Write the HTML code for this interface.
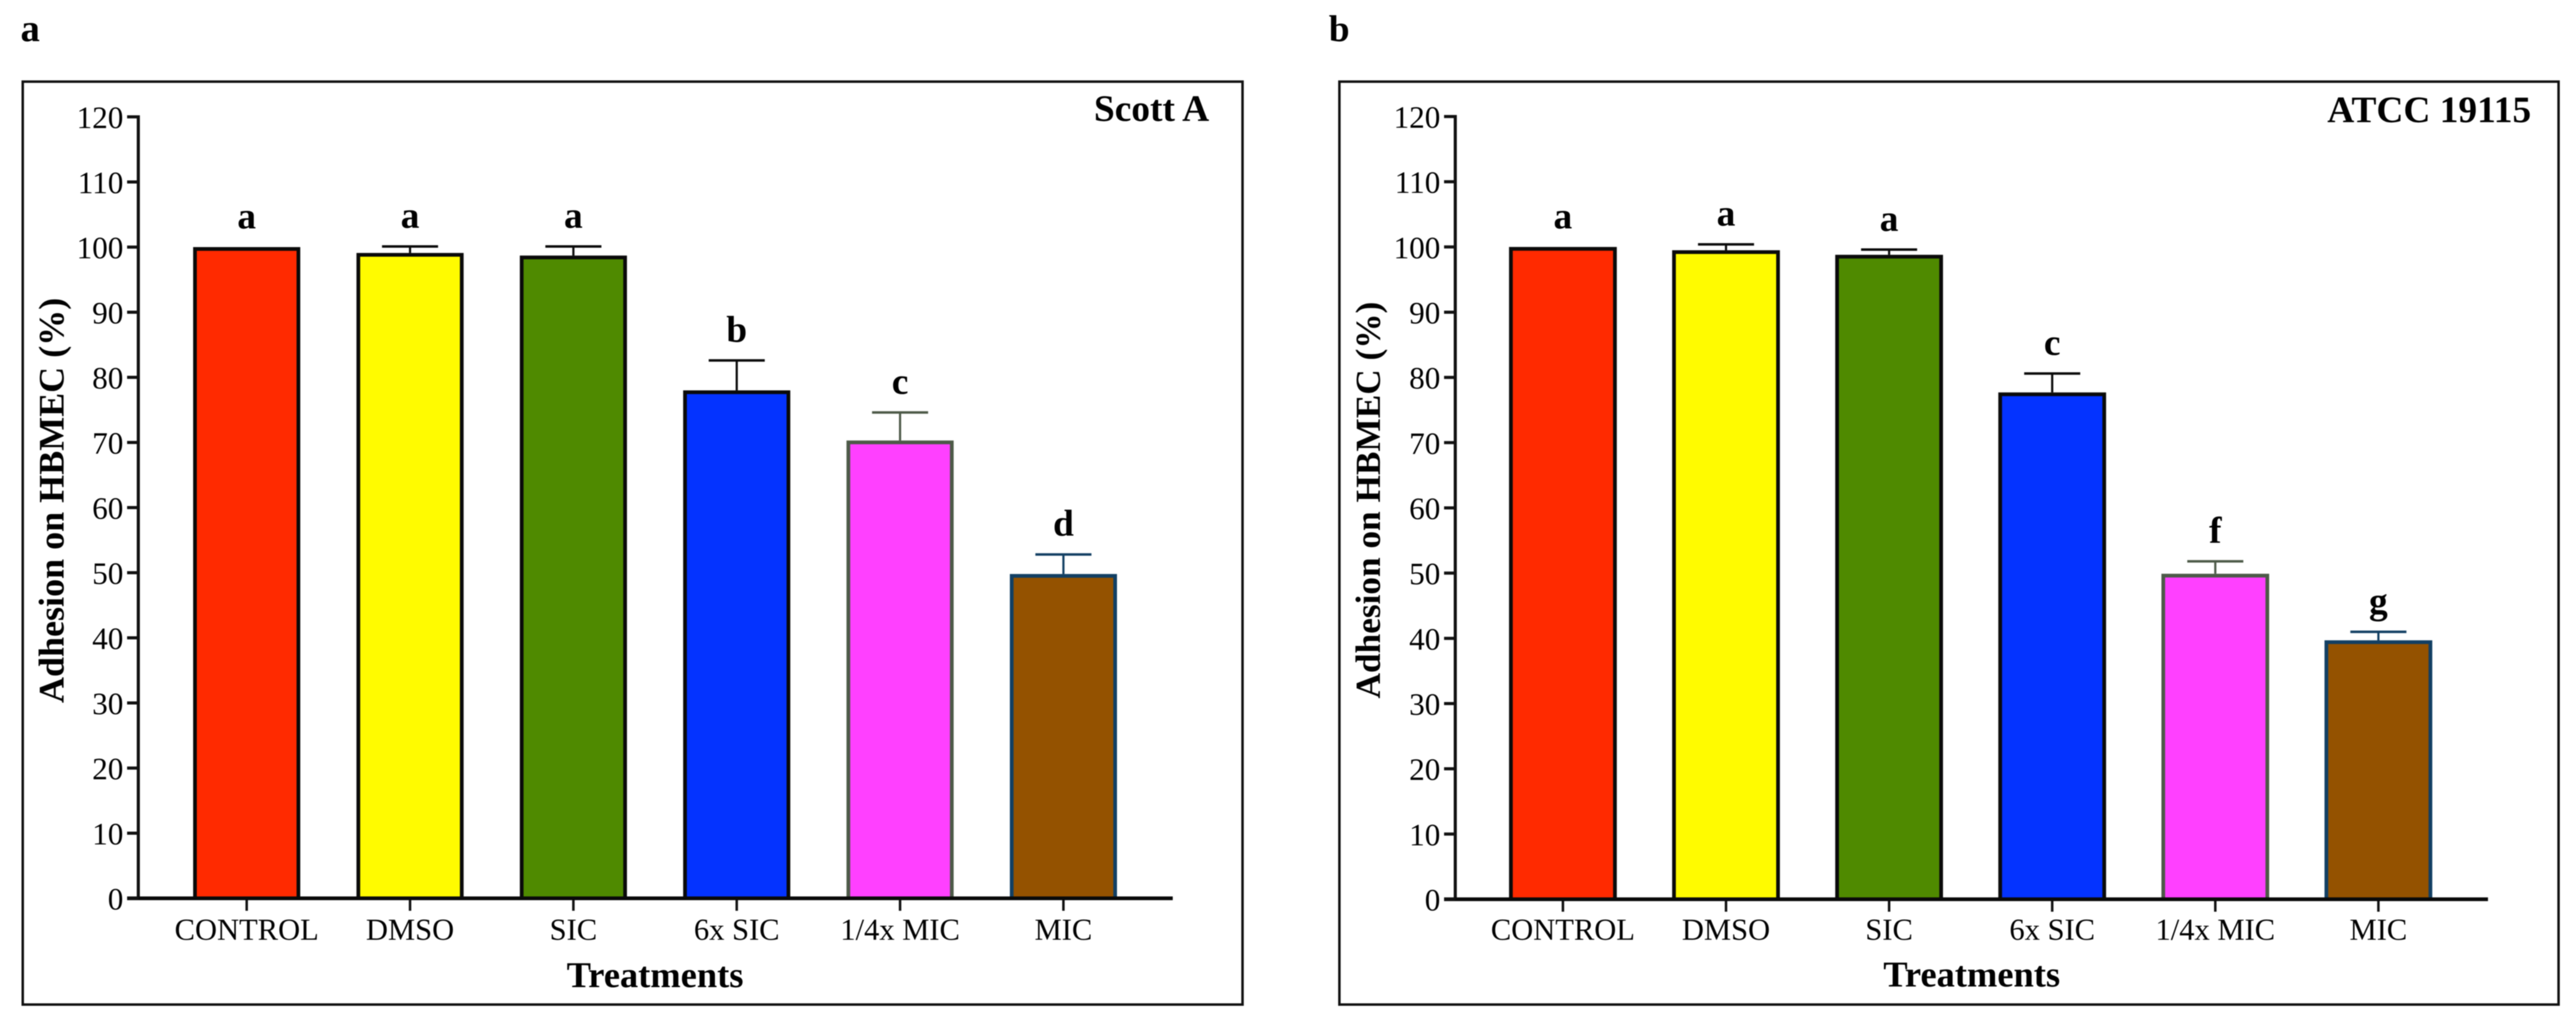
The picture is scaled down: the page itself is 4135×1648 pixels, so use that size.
<!DOCTYPE html>
<html lang="en">
<head>
<meta charset="utf-8">
<title>Adhesion on HBMEC (%) by treatment</title>
<style>
  html, body { margin: 0; padding: 0; background: #fff; }
  body { width: 4135px; height: 1648px; overflow: hidden; }
  svg { display: block; font-family: "Liberation Serif", serif; filter: blur(0.7px); }
  text { fill: #000; text-rendering: geometricPrecision; }
  .bold { font-weight: 700; }
</style>
</head>
<body>
<svg id="figure" xmlns="http://www.w3.org/2000/svg" width="4135" height="1648" viewBox="0 0 4135 1648">
  <rect x="0" y="0" width="4135" height="1648" fill="#ffffff"/>

  <text class="bold" x="33" y="66" font-size="62">a</text>
  <text class="bold" x="2133" y="66" font-size="60">b</text>

  <g id="panel-a">
    <rect x="36.5" y="131" width="1958" height="1481" fill="#fff" stroke="#111" stroke-width="4"/>
    <text class="bold" x="1941" y="194" font-size="60" text-anchor="end">Scott A</text>
    <text class="bold" transform="translate(102 803) rotate(-90)" font-size="57.8" text-anchor="middle">Adhesion on HBMEC (%)</text>
    <text class="bold" x="1051.5" y="1584" font-size="58.5" text-anchor="middle">Treatments</text>
  </g>

  <g id="panel-b">
    <rect x="2150" y="131" width="1957" height="1481" fill="#fff" stroke="#111" stroke-width="4"/>
    <text class="bold" x="4063" y="196" font-size="60" text-anchor="end">ATCC 19115</text>
    <text class="bold" transform="translate(2215 802.5) rotate(-90)" font-size="56.6" text-anchor="middle">Adhesion on HBMEC (%)</text>
    <text class="bold" x="3165" y="1583" font-size="58.5" text-anchor="middle">Treatments</text>
  </g>
</svg>

<script>
// ---- chart data ----
const categories = ['CONTROL', 'DMSO', 'SIC', '6x SIC', '1/4x MIC', 'MIC'];
const yTickValues = [0, 10, 20, 30, 40, 50, 60, 70, 80, 90, 100, 110, 120];

const scottValues = [100, 99.1, 98.7, 78, 70.3, 49.8];
const scottErrors = [0, 1.0, 1.4, 4.6, 4.3, 3.0];
const scottLetters = ['a', 'a', 'a', 'b', 'c', 'd'];

const atccValues = [100, 99.5, 98.8, 77.7, 49.9, 39.7];
const atccErrors = [0, 0.9, 0.8, 2.9, 1.9, 1.3];
const atccLetters = ['a', 'a', 'a', 'c', 'f', 'g'];

// ---- styling ----
const barFills = ['#FF2A00', '#FFFB00', '#4F8A00', '#0433FF', '#FF40FF', '#945200'];
const barStrokes = ['#0a0a0a', '#0a0a0a', '#0a0a0a', '#0a0a0a', '#4d5a48', '#123f63'];
const SVG_NS = 'http://www.w3.org/2000/svg';

function make(parent, tag, props, content) {
  const el = document.createElementNS(SVG_NS, tag);
  Object.keys(props).forEach(function (k) { el.setAttribute(k, props[k]); });
  if (content !== undefined) el.textContent = content;
  parent.appendChild(el);
  return el;
}

function drawPanel(root, layout, values, errors, letters) {
  const yScale = function (v) { return layout.y0 - v * layout.pxPerUnit; };
  const xScale = function (i) { return layout.firstCenter + i * layout.step; };
  const barStroke = 6;

  values.forEach(function (v, i) {
    const cx = xScale(i);
    const top = yScale(v);
    const capY = yScale(v + errors[i]);

    if (errors[i] > 0) {
      const stem = make(root, 'line', { x1: cx, x2: cx, y1: top, y2: capY, stroke: barStrokes[i], 'stroke-width': 3.5 });
      
      

      const cap = make(root, 'line', { x1: cx - 45, x2: cx + 45, y1: capY, y2: capY, stroke: barStrokes[i], 'stroke-width': 4 });
      
      
    }

    const bar = make(root, 'rect', {
      x: cx - layout.barWidth / 2 + barStroke / 2,
      y: top + barStroke / 2,
      width: layout.barWidth - barStroke,
      height: layout.y0 - top - barStroke / 2,
      fill: barFills[i],
      stroke: barStrokes[i],
      'stroke-width': barStroke
    });
    
    

    const letter = make(root, 'text', {
      x: cx,
      y: capY - 30,
      'font-size': 60,
      'font-weight': 700,
      'text-anchor': 'middle'
    }, letters[i]);
    
    

    const xTick = make(root, 'line', { x1: cx, x2: cx, y1: layout.y0, y2: layout.y0 + 20, stroke: '#111', 'stroke-width': 4 });
    
    

    const xLabel = make(root, 'text', {
      x: cx,
      y: 1508,
      'font-size': 49,
      'text-anchor': 'middle'
    }, categories[i]);
    
    
  });

  const yAxis = make(root, 'line', { x1: layout.axisX, x2: layout.axisX, y1: yScale(120) - 2.5, y2: layout.y0 + 3, stroke: '#111', 'stroke-width': 5 });
  
  

  const xAxis = make(root, 'line', { x1: layout.axisX - 18, x2: layout.axisEnd, y1: layout.y0, y2: layout.y0, stroke: '#0a0a0a', 'stroke-width': 6 });
  
  

  yTickValues.forEach(function (t) {
    const y = yScale(t);
    const tick = make(root, 'line', { x1: layout.axisX - 18, x2: layout.axisX, y1: y, y2: y, stroke: '#111', 'stroke-width': 5 });
    
    

    const label = make(root, 'text', {
      x: layout.axisX - 24,
      y: y + 18,
      'font-size': 50,
      'text-anchor': 'end'
    }, String(t));
    
    
  });
}

drawPanel(document.getElementById('panel-a'), {
  y0: 1441.5, pxPerUnit: 10.45, firstCenter: 396, step: 262.2,
  barWidth: 172, axisX: 222, axisEnd: 1882.5
}, scottValues, scottErrors, scottLetters);

drawPanel(document.getElementById('panel-b'), {
  y0: 1443, pxPerUnit: 10.467, firstCenter: 2508.8, step: 261.8,
  barWidth: 173, axisX: 2336, axisEnd: 3993.7
}, atccValues, atccErrors, atccLetters);
</script>
</body>
</html>
